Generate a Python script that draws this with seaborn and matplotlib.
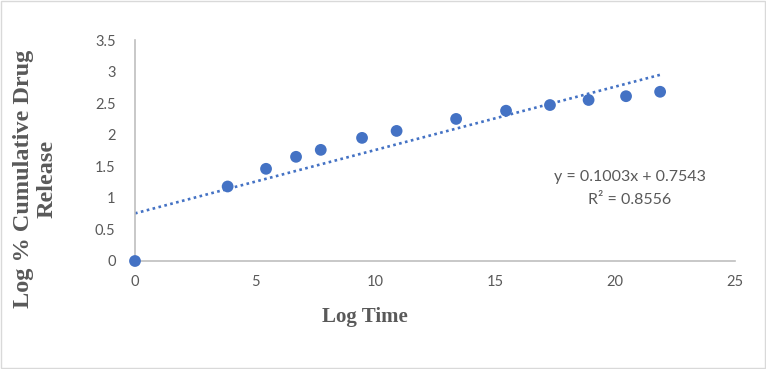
import numpy as np
import pandas as pd
import matplotlib
matplotlib.use("Agg")
import matplotlib.pyplot as plt
import seaborn as sns
from matplotlib.patches import Rectangle

# data
log_time = [0, 3.86, 5.46, 6.71, 7.74, 9.46, 10.9, 13.38, 15.46, 17.29, 18.9, 20.46, 21.88]
log_release = [0, 1.18, 1.46, 1.65, 1.76, 1.95, 2.06, 2.25, 2.38, 2.47, 2.55, 2.61, 2.68]
slope = 0.1003
intercept = 0.7543
r2 = 0.8556
xticks = [0, 5, 10, 15, 20, 25]
yticks = [0, 0.5, 1, 1.5, 2, 2.5, 3, 3.5]

blue = "#4472C4"
grey = "#595959"

sns.set_style("white")
plt.rcParams['font.family'] = ['Lato', 'DejaVu Sans']

df = pd.DataFrame({'Log Time': log_time, 'Log % Release': log_release})
x_fit = np.array([0, max(log_time)])
trend = pd.DataFrame({'x': x_fit, 'y': slope * x_fit + intercept})

fig = plt.figure(figsize=(7.66, 3.69), dpi=100)
ax = fig.add_axes([135 / 766, 108 / 369, 600 / 766, 221 / 369])

sns.lineplot(data=trend, x='x', y='y', ax=ax, color=blue, linewidth=1.9,
             linestyle=(0, (1, 1.3)))
sns.scatterplot(data=df, x='Log Time', y='Log % Release', ax=ax, color=blue,
                s=72, edgecolor='none', clip_on=False, zorder=3)

ax.set_xlim(0, 25)
ax.set_ylim(0, 3.5)
ax.set_xticks(xticks)
ax.set_yticks(yticks)
ax.set_xticklabels([str(t) for t in xticks])
ax.set_yticklabels([f"{t:g}" for t in yticks])
ax.tick_params(length=0, labelsize=10.5, labelcolor=grey)
ax.tick_params(axis='y', pad=14)
ax.tick_params(axis='x', pad=10)
for side in ['top', 'right']:
    ax.spines[side].set_visible(False)
for side in ['left', 'bottom']:
    ax.spines[side].set_color('#bfbfbf')
    ax.spines[side].set_linewidth(1.2)
ax.set_xlabel('')
ax.set_ylabel('')

fig.text(365 / 766, 1 - 317 / 369, 'Log Time', ha='center', va='center',
         family='Liberation Serif', weight='bold', fontsize=15, color=grey)
fig.text(35 / 766, 1 - 179 / 369, 'Log % Cumulative Drug\nRelease', ha='center',
         va='center', rotation=90, family='Liberation Serif', weight='bold',
         fontsize=17.5, color=grey, linespacing=1.15)

fig.text(630 / 766, 1 - 177 / 369, f'y = {slope}x + {intercept}', ha='center',
         va='center', fontsize=11.5, color=grey)
fig.text(630 / 766, 1 - 200 / 369, f'R² = {r2}', ha='center', va='center',
         fontsize=11.5, color=grey)

fig.patches.append(Rectangle((1 / 766, 1 / 369), 764 / 766, 367 / 369,
                             transform=fig.transFigure, fill=False,
                             edgecolor='#d9d9d9', linewidth=1))

fig.savefig('out.png', dpi=100)
